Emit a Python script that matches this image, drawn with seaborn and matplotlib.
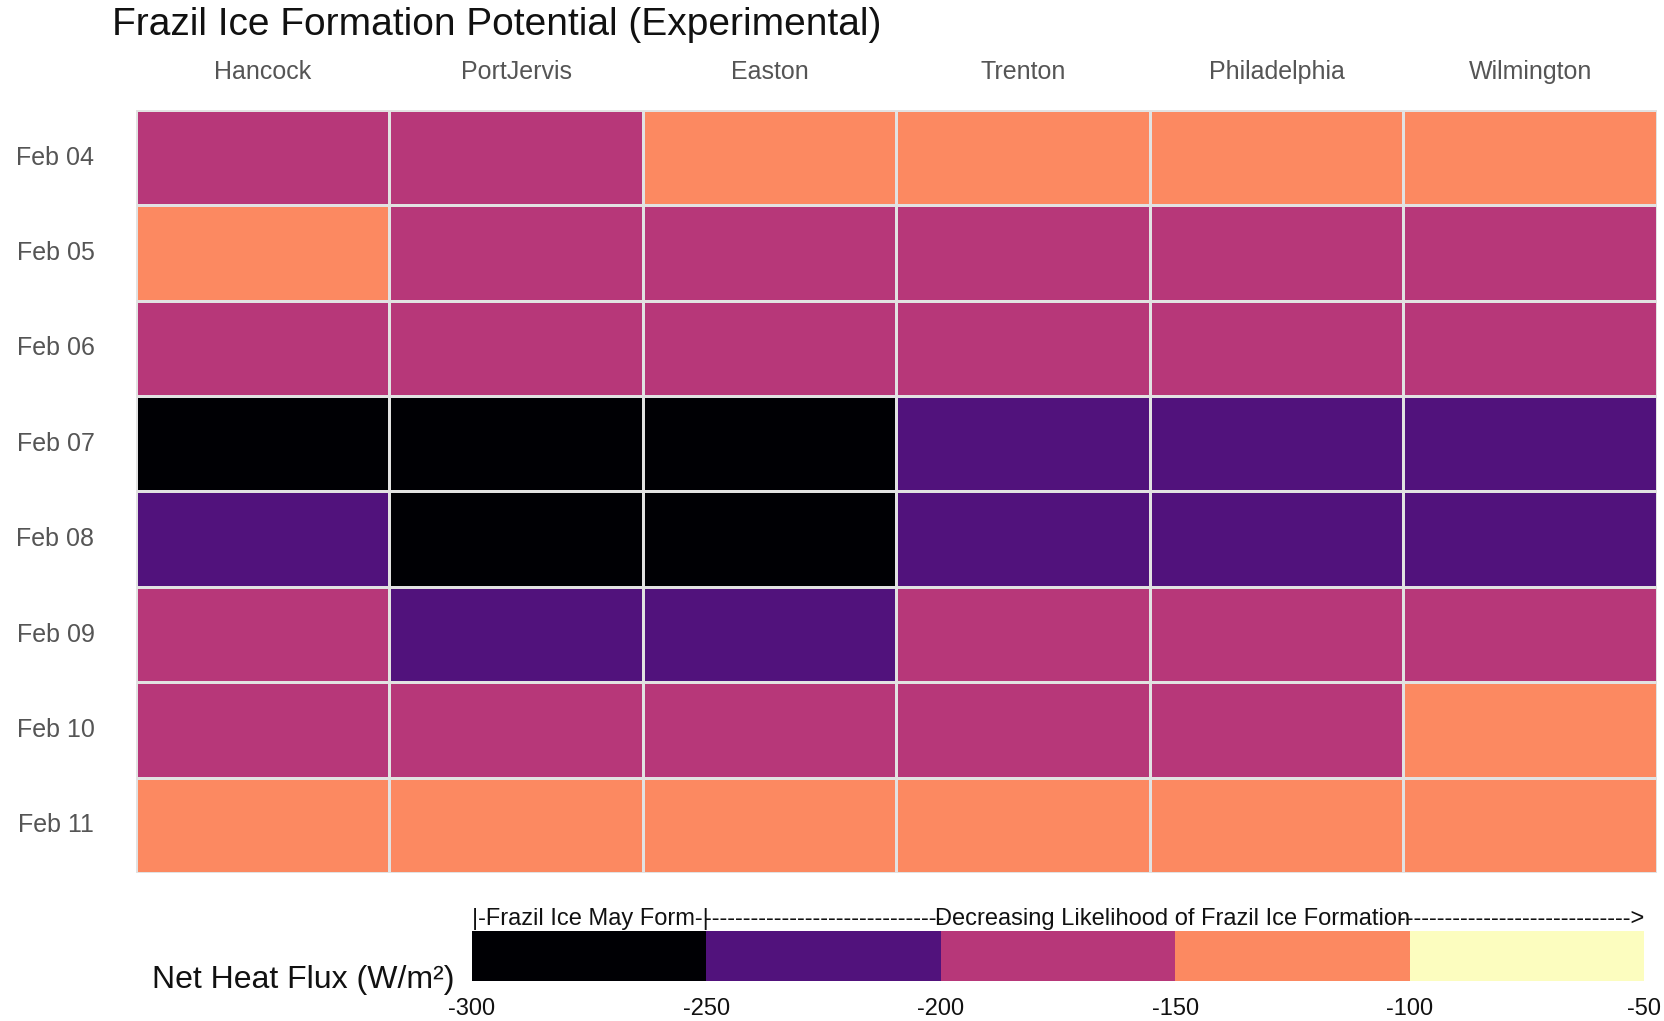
import numpy as np
import pandas as pd
import seaborn as sns
import matplotlib.pyplot as plt
from matplotlib.colors import ListedColormap

sns.set_style("white")
plt.rcParams['font.family'] = ['Liberation Sans', 'DejaVu Sans']

# Data: net heat flux (W/m^2), read as bin midpoints from the picture
sites = ['Hancock', 'PortJervis', 'Easton', 'Trenton', 'Philadelphia', 'Wilmington']
dates = ['Feb 04', 'Feb 05', 'Feb 06', 'Feb 07', 'Feb 08', 'Feb 09', 'Feb 10', 'Feb 11']
hancock = [-175, -125, -175, -275, -225, -175, -175, -125]
portjervis = [-175, -175, -175, -275, -275, -225, -175, -125]
easton = [-125, -175, -175, -275, -275, -225, -175, -125]
trenton = [-125, -175, -175, -225, -225, -175, -175, -125]
philadelphia = [-125, -175, -175, -225, -225, -175, -175, -125]
wilmington = [-125, -175, -175, -225, -225, -175, -125, -125]
bounds = [-300, -250, -200, -150, -100, -50]
colors = ['#000004', '#51127c', '#b73779', '#fc8961', '#fcfdbf']

df = pd.DataFrame({
    'Hancock': hancock, 'PortJervis': portjervis, 'Easton': easton,
    'Trenton': trenton, 'Philadelphia': philadelphia, 'Wilmington': wilmington,
}, index=dates)[sites]

W, H = 1665, 1021
fig = plt.figure(figsize=(W / 100, H / 100), dpi=100)
ax = fig.add_axes([136 / W, 1 - 873 / H, (1657 - 136) / W, (873 - 110) / H])
cax = fig.add_axes([472 / W, 1 - 981 / H, (1644 - 472) / W, 50 / H])

cmap = ListedColormap(colors)
sns.heatmap(df, ax=ax, cmap=cmap, vmin=bounds[0], vmax=bounds[-1],
            linewidths=0.8, linecolor='#e2e2e2',
            cbar_ax=cax, cbar_kws={'orientation': 'horizontal', 'ticks': bounds})

# column labels on top
ax.xaxis.tick_top()
ax.set_xlabel('')
ax.set_ylabel('')
ax.tick_params(axis='both', length=0)
ax.set_xticklabels(sites, fontsize=18, color='#555555', rotation=0)
ax.tick_params(axis='x', pad=19)
ax.set_yticklabels(dates, fontsize=18, color='#555555', rotation=0, ha='center')
ax.tick_params(axis='y', pad=58)

# colour bar
cbar = ax.collections[0].colorbar
cbar.outline.set_visible(False)
cax.tick_params(length=0, labelsize=17, pad=12, labelcolor='#111111')
cax.set_xticklabels([str(b) for b in bounds])

lbl = dict(fontsize=17, color='#111111', va='bottom', transform=cax.get_xaxis_transform())
cax.text(-300, 1.02, '|-Frazil Ice May Form-|', ha='left', **lbl)
cax.text(-150.5, 1.02, 'Decreasing Likelihood of Frazil Ice Formation', ha='center', **lbl)
cax.text(-250.5, 1.02, '-' * 31, ha='left', **lbl)
cax.text(-50, 1.02, '-' * 30 + '>', ha='right', **lbl)

fig.text(455 / W, 1 - 988 / H, 'Net Heat Flux (W/m²)', ha='right', va='baseline',
         fontsize=23, color='#111111')

fig.text(112 / W, 1 - 25 / H, 'Frazil Ice Formation Potential (Experimental)',
         ha='left', va='center', fontsize=28, color='#111111')

fig.savefig('out.png', dpi=100)
